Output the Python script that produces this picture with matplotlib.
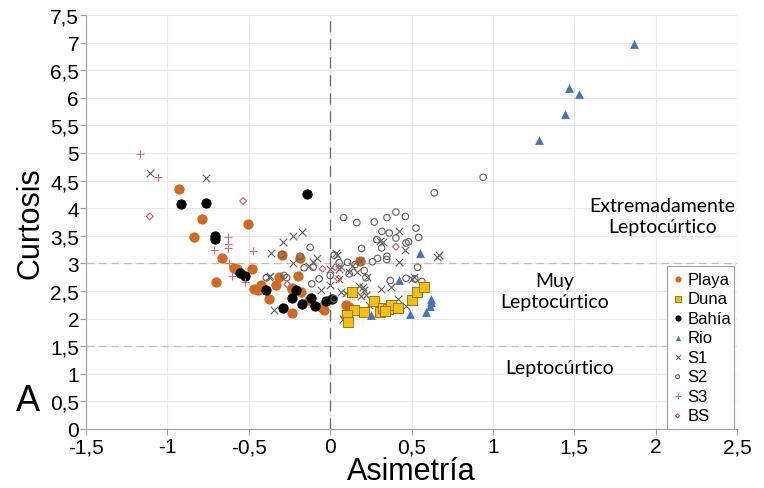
import matplotlib
matplotlib.use('Agg')
import matplotlib.pyplot as plt
from matplotlib.ticker import MultipleLocator, FuncFormatter

plt.rcParams['font.family'] = ['Liberation Sans', 'DejaVu Sans']

# Asimetria (x) / Curtosis (y) values per group
playa_x = [-0.931, -0.79, -0.835, -0.505, -0.667, -0.593, -0.573, -0.704, -0.482, -0.445,
           -0.425, -0.373, -0.334, -0.293, -0.185, -0.314, -0.2, -0.232, -0.18, -0.129,
           -0.057, -0.037, -0.232, 0.185, 0.097, 0.113, -0.236, -0.468]
playa_y = [4.34, 3.81, 3.48, 3.72, 3.09, 2.92, 2.90, 2.67, 2.89, 2.52,
           2.60, 2.35, 2.61, 3.16, 3.10, 2.75, 2.77, 2.54, 2.49, 2.33,
           2.21, 2.16, 2.10, 3.05, 2.25, 2.21, 2.56, 2.54]

duna_x = [0.137, 0.144, 0.103, 0.111, 0.267, 0.209, 0.308, 0.322, 0.353, 0.373,
          0.418, 0.503, 0.533, 0.574, 0.34]
duna_y = [2.49, 2.16, 2.06, 1.94, 2.31, 2.12, 2.12, 2.19, 2.18, 2.24,
          2.19, 2.33, 2.49, 2.57, 2.14]

bahia_x = [-0.915, -0.763, -0.706, -0.71, -0.556, -0.525, -0.396, -0.287, -0.232, -0.211,
           -0.17, -0.115, -0.092, -0.026, 0.01, -0.143]
bahia_y = [4.08, 4.10, 3.49, 3.45, 2.83, 2.78, 2.52, 2.19, 2.38, 2.52,
           2.27, 2.38, 2.23, 2.31, 2.35, 4.26]

rio_x = [1.87, 1.467, 1.526, 1.446, 1.286, 0.55, 0.42, 0.62, 0.62, 0.615, 0.59, 0.49, 0.25]
rio_y = [6.97, 6.17, 6.06, 5.70, 5.24, 3.19, 2.69, 2.36, 2.30, 2.23, 2.12, 2.09, 2.07]

s1_x = [-1.108, -0.763, -0.365, -0.369, -0.345, -0.287, -0.228, -0.17, -0.228, -0.078,
        -0.133, -0.105, 0.045, 0.055, 0.137, 0.185, 0.42, 0.322, 0.308, 0.462,
        0.42, 0.657, 0.671, -0.375, 0.117, 0.055, 0.0, -0.057, 0.097, 0.2,
        0.21, 0.22, 0.312, 0.373, 0.466, 0.414, 0.50, 0.517, 0.24, 0.076,
        0.066, 0.164, 0.226, 0.178, 0.189, 0.066, 0.092, 0.035, 0.0]
s1_y = [4.64, 4.54, 3.18, 2.78, 2.15, 3.39, 3.50, 3.57, 3.01, 3.10,
        2.95, 3.02, 3.16, 2.90, 2.96, 3.05, 3.58, 3.39, 3.40, 3.25,
        3.02, 3.12, 3.15, 2.75, 2.84, 2.72, 2.61, 2.51, 2.47, 2.57,
        2.51, 2.42, 2.54, 2.57, 2.22, 2.36, 2.72, 2.76, 2.24, 2.00,
        2.93, 2.84, 2.76, 2.59, 2.41, 2.48, 2.09, 3.19, 2.90]

s2_x = [0.082, 0.164, 0.271, 0.349, 0.404, 0.462, 0.318, 0.363, 0.527, 0.544,
        0.287, 0.466, 0.482, 0.193, 0.349, 0.291, 0.26, 0.537, 0.209, 0.055,
        0.025, 0.369, 0.466, 0.564, 0.117, 0.316, 0.404, -0.123, 0.107, -0.16,
        -0.105, 0.154, 0.22, 0.52, -0.392, -0.267, -0.068, -0.113, 0.64, 0.94,
        -0.297, -0.185, 0.025, -0.283, 0.347, 0.0]
s2_y = [3.83, 3.74, 3.75, 3.83, 3.93, 3.85, 3.58, 3.55, 3.64, 3.47,
        3.43, 3.37, 3.39, 3.27, 3.13, 3.09, 3.03, 2.93, 2.87, 3.01,
        3.15, 2.69, 2.73, 2.67, 2.81, 3.28, 3.46, 3.29, 3.02, 2.92,
        2.93, 2.98, 2.74, 2.72, 2.74, 2.74, 2.72, 2.63, 4.28, 4.56,
        3.16, 3.13, 2.36, 2.78, 3.07, 2.78]

s3_x = [-1.171, -1.06, -0.626, -0.626, -0.626, -0.716, -0.476, -0.605, -0.523, -0.62]
s3_y = [4.99, 4.56, 3.47, 3.35, 3.28, 3.25, 3.23, 2.78, 2.66, 3.00]

bs_x = [-1.108, -0.535, -0.047, 0.051, 0.031, 0.404, -0.263]
bs_y = [3.85, 4.13, 2.90, 2.72, 2.93, 3.30, 2.62]

fig = plt.figure(figsize=(7.64, 4.89), dpi=100)
ax = fig.add_axes([0.1126, 0.1207, 0.8521, 0.8466])

ax.set_xlim(-1.5, 2.5)
ax.set_ylim(0, 7.5)
ax.xaxis.set_major_locator(MultipleLocator(0.5))
ax.yaxis.set_major_locator(MultipleLocator(0.5))
comma = FuncFormatter(lambda v, p: ('%g' % v).replace('.', ','))
ax.xaxis.set_major_formatter(comma)
ax.yaxis.set_major_formatter(comma)
ax.grid(True, color='#e8e8e8', lw=0.8, zorder=0)
ax.set_axisbelow(True)

for s in ['top', 'right']:
    ax.spines[s].set_visible(False)
for s in ['left', 'bottom']:
    ax.spines[s].set_color('#a0a0a0')
ax.tick_params(colors='#a0a0a0', labelcolor='black', labelsize=15, length=4)
ax.tick_params(axis='y', pad=1)
ax.tick_params(axis='x', pad=2)

# reference lines
ax.axhline(3, color='#c0c0c0', lw=0.9, ls=(0, (6, 4)), zorder=1)
ax.axhline(1.5, color='#c0c0c0', lw=0.9, ls=(0, (6, 4)), zorder=1)
ax.axvline(0, color='#707070', lw=1.0, ls=(0, (8, 5)), zorder=1)

ax.scatter(s1_x, s1_y, marker='x', s=30, c='#606060', lw=0.8, label='S1', zorder=3)
ax.scatter(s2_x, s2_y, marker='o', s=22, facecolors='none', edgecolors='#606060', lw=0.8, label='S2', zorder=3)
ax.scatter(playa_x, playa_y, marker='o', s=55, c='#d2691e', lw=0, label='Playa', zorder=2)
ax.scatter(duna_x, duna_y, marker='s', s=50, c='#f7bd0f', edgecolors='#8a6a00', lw=0.6, label='Duna', zorder=4)
ax.scatter(bahia_x, bahia_y, marker='o', s=55, c='black', lw=0, label='Bahía', zorder=2)
ax.scatter(rio_x, rio_y, marker='^', s=40, c='#4472c4', lw=0, label='Rio', zorder=4)
ax.scatter(s3_x, s3_y, marker='+', s=40, c='#e06a80', lw=0.8, label='S3', zorder=3)
ax.scatter(bs_x, bs_y, marker='D', s=12, facecolors='none', edgecolors='#e05060', lw=0.8, label='BS', zorder=3)

ax.set_xlabel('Asimetría', fontsize=22, labelpad=0)
ax.set_ylabel('Curtosis', fontsize=22, labelpad=3)

ax.text(2.04, 3.86, 'Extremadamente\nLeptocúrtico', fontsize=14, family='Lato',
        ha='center', va='center', linespacing=1.3)
ax.text(1.38, 2.5, 'Muy\nLeptocúrtico', fontsize=14, family='Lato',
        ha='center', va='center', linespacing=1.3)
ax.text(1.41, 1.11, 'Leptocúrtico', fontsize=14, family='Lato', ha='center', va='center')
fig.text(0.037, 0.178, 'A', fontsize=26, ha='center', va='center')

handles, labels = ax.get_legend_handles_labels()
order = ['Playa', 'Duna', 'Bahía', 'Rio', 'S1', 'S2', 'S3', 'BS']
hmap = dict(zip(labels, handles))
leg = ax.legend([hmap[k] for k in order], order, loc='lower left',
                bbox_to_anchor=(0.892, 0.0, 0.103, 0.4), mode='expand',
                fontsize=12, markerscale=0.6, handlelength=0.6, handletextpad=0.3,
                labelspacing=0.27, borderaxespad=0, borderpad=0.35, fancybox=False,
                framealpha=1, edgecolor='#a0a0a0')
leg.get_frame().set_linewidth(0.8)

fig.savefig('out.png', dpi=100)
